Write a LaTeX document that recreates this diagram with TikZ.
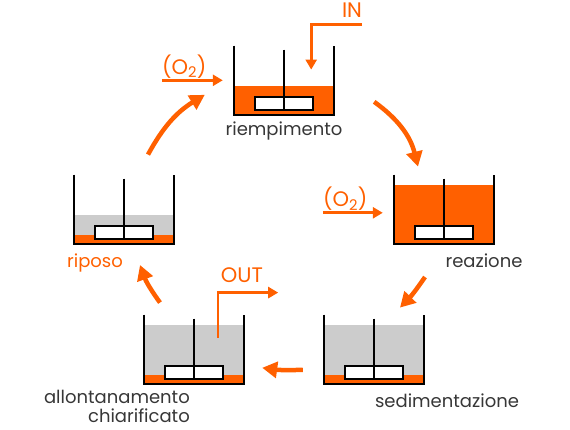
\documentclass[tikz,border=0pt]{standalone}
\usepackage{fontspec}
\setmainfont{Poppins}
\usepackage{tikz}
\usetikzlibrary{arrows.meta,calc,positioning}
\definecolor{arancio}{RGB}{255,96,0}
\definecolor{grigio}{RGB}{204,204,204}
\definecolor{testo}{RGB}{55,55,55}
\tikzset{%
  % Specifications for style of nodes:
            vasca/.style = {rectangle, minimum width=100pt, minimum height=69pt,
                            inner sep=0pt, anchor=south},
        etichetta/.style = {font=\fontsize{18}{19}\selectfont, text=testo, inner sep=0pt},
           flusso/.style = {font=\fontsize{21}{24}\selectfont, text=arancio, inner sep=0pt},
  % Specifications for style of arrows:
            ciclo/.style = {draw=arancio, line width=4.5pt,
                            -{Triangle[length=15pt,width=16pt]}},
             tubo/.style = {draw=arancio, line width=2.6pt,
                            -{Triangle[length=10pt,width=11pt]}}
                           }

\begin{document}
\begin{tikzpicture}[x=1pt, y=1pt]
                    \useasboundingbox (0,0) rectangle (570,430);

                    \node (riempimento)    [vasca] at (284,315) {};
                    \node (reazione)       [vasca] at (444,186) {};
                    \node (riposo)         [vasca] at (124,186) {};
                    \node (allontanamento) [vasca] at (194,46)  {};
                    \node (sedimentazione) [vasca] at (374,46)  {};

                    % liquid levels: name / gray / orange
                    \foreach \v/\g/\o in {riempimento/0/29, reazione/0/59, riposo/29/9,
                                          allontanamento/59/9, sedimentazione/59/9} {
                        \fill[grigio]  (\v.south west) rectangle ($(\v.south east)+(0,\g)$);
                        \fill[arancio] (\v.south west) rectangle ($(\v.south east)+(0,\o)$);
                        \draw[line width=1.6pt, fill=white] ($(\v.south)+(-29,5)$) rectangle ($(\v.south)+(29,18)$);
                        \draw[line width=1.4pt] ($(\v.north)+(0,-4)$) -- ($(\v.south)+(0,5)$);
                        \draw[line width=1.8pt] (\v.north west) -- (\v.south west) -- (\v.south east) -- (\v.north east);
                    }

                    \node (lab-riempimento)    [etichetta, below=7pt of riempimento]             {riempimento};
                    \node (lab-reazione)       [etichetta, below=10pt of reazione, xshift=40pt]  {reazione};
                    \node (lab-riposo)         [etichetta, below=10pt of riposo, xshift=-29pt, text=arancio] {riposo};
                    \node (lab-sedimentazione) [etichetta, below=10pt of sedimentazione, xshift=73pt] {sedimentazione};
                    \node (lab-allontanamento) [etichetta, align=right, anchor=north east]
                          at ($(allontanamento.south)+(-4,-6)$) {allontanamento\\chiarificato};

                    \draw[ciclo]  ($(riposo.north)+(24,20)$)            to[bend left=15] ($(riempimento.west)+(-29,-14.5)$);
                    \draw[ciclo]  ($(riempimento.east)+(40,-21.5)$)     to[bend left=20] ($(reazione.north)+(-26,8)$);
                    \draw[ciclo]  ($(reazione.south)+(-19,-33)$)        to[bend left=5]  ($(sedimentazione.north)+(26,7)$);
                    \draw[ciclo]  ($(sedimentazione.west)+(-21,-20.5)$) to[bend left=5]  ($(allontanamento.east)+(18,-18.5)$);
                    \draw[ciclo]  ($(allontanamento.north)+(-34,12)$)   to[bend left=8]  ($(riposo.south)+(16,-21)$);

                    % feed, air and discharge
                    \coordinate (in)     at ($(riempimento.north east)+(28,21)$);
                    \coordinate (o2a)    at ($(riempimento.west)+(-72,0)$);
                    \coordinate (o2b)    at ($(reazione.west)+(-71,-3.5)$);
                    \coordinate (uscita) at ($(allontanamento.north east)+(34,22)$);

                    \draw[tubo] (in)  -| ($(riempimento.north east)+(-23,-24)$);
                    \draw[tubo] (o2a) -- ($(riempimento.west)+(-11,0)$);
                    \draw[tubo] (o2b) -- ($(reazione.west)+(-11,-3.5)$);
                    \draw[tubo] ($(allontanamento.center)+(24,11.5)$) |- (uscita);

                    \node (ingresso) [flusso, above left=7pt and 0pt of in]       {IN};
                    \node (aria-a)   [flusso, above right=2pt and 0pt of o2a]     {(O\textsubscript{2})};
                    \node (aria-b)   [flusso, above right=2pt and 0pt of o2b]     {(O\textsubscript{2})};
                    \node (scarico)  [flusso, above left=10pt and 15pt of uscita] {OUT};
                \end{tikzpicture}
\end{document}
